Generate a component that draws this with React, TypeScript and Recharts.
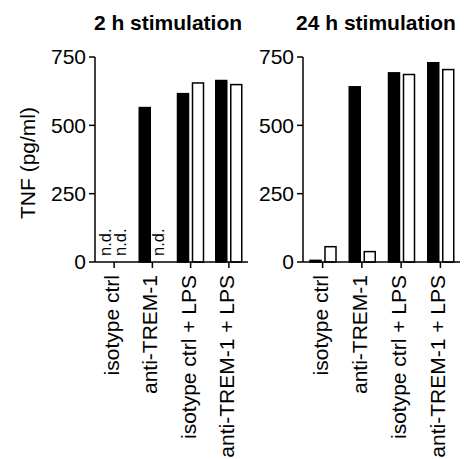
import { BarChart, Bar, XAxis, YAxis } from "recharts";

const categories = ["isotype ctrl", "anti-TREM-1", "isotype ctrl + LPS", "anti-TREM-1 + LPS"];
const filled2h = [null, 565, 616, 664];
const open2h = [null, null, 655, 649];
const filled24h = [6, 641, 692, 729];
const open24h = [56, 38, 686, 704];
const yTicks = [0, 250, 500, 750];

const FONT = '"Liberation Sans", Arial, sans-serif';

const buildRows = (filled: (number | null)[], open: (number | null)[]) =>
  categories.map((name, i) => ({
    name,
    filled: filled[i] ?? 0,
    open: open[i] ?? 0,
    filledNd: filled[i] === null,
    openNd: open[i] === null,
  }));

const rows2h = buildRows(filled2h, open2h);
const rows24h = buildRows(filled24h, open24h);

const RotatedTick = (props: any) => {
  const { x, y, payload } = props;
  return (
    <text
      x={x}
      y={y}
      dy={5}
      transform={`rotate(-90, ${x}, ${y})`}
      textAnchor="end"
      fontSize={21}
      fontFamily={FONT}
      fill="#000"
    >
      {payload.value}
    </text>
  );
};

// bar shape: a plain outlined rect, or an "n.d." mark where nothing was detected
const makeShape = (ndKey: string, fill: string) => (props: any) => {
  const { x, y, width, height, payload } = props;
  if (payload && payload[ndKey]) {
    const cx = x + width / 2;
    const by = y + (height || 0) - 6;
    return (
      <text
        x={cx}
        y={by}
        dy={4}
        transform={`rotate(-90, ${cx}, ${by})`}
        textAnchor="start"
        fontSize={16.5}
        fontFamily={FONT}
        fill="#000"
      >
        n.d.
      </text>
    );
  }
  if (!height) return <g />;
  return <rect x={x} y={y} width={width} height={height} fill={fill} stroke="#000" strokeWidth={1.5} />;
};

const filledShape = makeShape("filledNd", "#000");
const openShape = makeShape("openNd", "#fff");

const axisStroke = { stroke: "#000", strokeWidth: 1.5 };

const Panel = ({ data, left, width, yWidth, right }: any) => (
  <BarChart
    width={width}
    height={459}
    data={data}
    margin={{ top: 57, right, bottom: 0, left: 0 }}
    barSize={11}
    barGap={4}
    style={{ position: "absolute", left, top: 0, fontFamily: FONT }}
  >
    <XAxis
      dataKey="name"
      height={197}
      interval={0}
      tick={<RotatedTick />}
      tickSize={6}
      tickMargin={7}
      axisLine={axisStroke}
      tickLine={axisStroke}
    />
    <YAxis
      width={yWidth}
      domain={[0, 750]}
      ticks={yTicks}
      interval={0}
      tick={{ fontSize: 21, fill: "#000", fontFamily: FONT }}
      tickSize={6}
      tickMargin={3}
      axisLine={axisStroke}
      tickLine={axisStroke}
    />
    <Bar dataKey="filled" fill="#000" shape={filledShape} isAnimationActive={false} />
    <Bar dataKey="open" fill="#fff" shape={openShape} isAnimationActive={false} />
  </BarChart>
);

const titleStyle = (center: number): any => ({
  position: "absolute",
  top: 12,
  left: center - 100,
  width: 200,
  textAlign: "center",
  fontFamily: FONT,
  fontWeight: "bold",
  fontSize: 21,
  lineHeight: "21px",
  color: "#000",
});

export default function App() {
  return (
    <div style={{ position: "absolute", left: 0, top: 0, width: 467, height: 459, background: "#fff" }}>
      <Panel data={rows2h} left={0} width={250} yWidth={95} right={2} />
      <Panel data={rows24h} left={250} width={217} yWidth={53} right={7} />
      <div style={titleStyle(168)}>2 h stimulation</div>
      <div style={titleStyle(376)}>24 h stimulation</div>
      <svg width={50} height={459} style={{ position: "absolute", left: 0, top: 0 }}>
        <text
          x={35}
          y={163}
          transform="rotate(-90, 35, 163)"
          textAnchor="middle"
          fontSize={21}
          fontFamily={FONT}
          fill="#000"
        >
          TNF (pg/ml)
        </text>
      </svg>
    </div>
  );
}
